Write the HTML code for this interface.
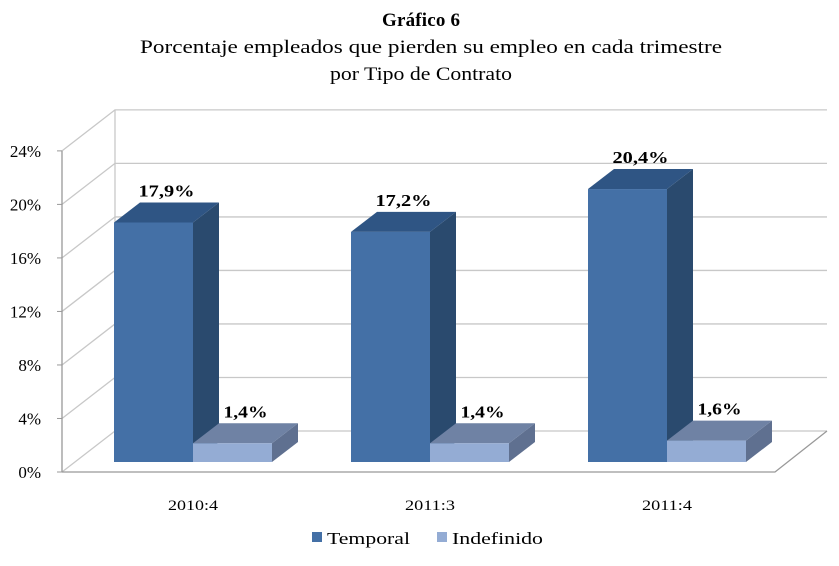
<!DOCTYPE html>
<html><head><meta charset="utf-8"><style>
body{margin:0;background:#fff;width:839px;height:561px;overflow:hidden;font-family:"Liberation Serif",serif}
</style></head><body>
<svg width="839" height="561" xmlns="http://www.w3.org/2000/svg">
<text x="421" y="26" text-anchor="middle" font-size="19" font-weight="bold" textLength="78">Gráfico 6</text>
<text x="431" y="53" text-anchor="middle" font-size="19" textLength="582" lengthAdjust="spacingAndGlyphs">Porcentaje empleados que pierden su empleo en cada trimestre</text>
<text x="421" y="80" text-anchor="middle" font-size="19" textLength="182" lengthAdjust="spacingAndGlyphs">por Tipo de Contrato</text>
<g id="grid"></g>
<g id="bars"></g>
<g id="legend">
<rect x="312" y="532" width="10" height="10" fill="#4470a6"/>
<text x="327" y="544" font-size="17" textLength="83" lengthAdjust="spacingAndGlyphs">Temporal</text>
<rect x="437" y="532" width="10" height="10" fill="#94acd4"/>
<text x="452" y="544" font-size="17" textLength="91" lengthAdjust="spacingAndGlyphs">Indefinido</text>
</g>
</svg>
<script>
const categories=["2010:4","2011:3","2011:4"];
const temporal=[17.9,17.2,20.4];
const indefinido=[1.4,1.4,1.6];
const tickLabels=["0%","4%","8%","12%","16%","20%","24%"];
const tickValues=[0,4,8,12,16,20,24];
const NS="http://www.w3.org/2000/svg";
const axX=62,axY0=472,scale=13.38,wdx=53,wdy=-41,rightX=827,floorFrontRight=775;
const barBase=462,barW=79,bdx=26,bdy=-20,groupStart=114,groupStep=237;
function yAx(v){return axY0-v*scale;}
function yBar(v){return barBase-v*scale;}
function mk(tag,attrs,parent){const e=document.createElementNS(NS,tag);for(const k in attrs)e.setAttribute(k,attrs[k]);parent.appendChild(e);return e;}
const grid=document.getElementById('grid');
tickValues.forEach((v,i)=>{
  const y=yAx(v);
  const l=mk('polyline',{points:`${axX},${y} ${axX+wdx},${y+wdy} ${rightX},${y+wdy}`,fill:'none',stroke:'#c8c8c8','stroke-width':1.3},grid);
  
  
  const t=mk('line',{x1:axX-5,y1:y,x2:axX,y2:y,stroke:'#999'},grid);
  
  
  const tx=mk('text',{x:41,y:y+6,'text-anchor':'end','font-size':17},grid);
  tx.textContent=tickLabels[i];
  
  
});
const bw=mk('line',{x1:axX+wdx,y1:yAx(0)+wdy,x2:axX+wdx,y2:yAx(24)+wdy,stroke:'#c8c8c8','stroke-width':1.3},grid);


const ax=mk('line',{x1:axX,y1:yAx(0),x2:axX,y2:yAx(24),stroke:'#999','stroke-width':1.3},grid);


const fl=mk('polyline',{points:`${axX},${axY0} ${floorFrontRight},${axY0} ${rightX},${axY0+wdy}`,fill:'none',stroke:'#999','stroke-width':1.3},grid);


const bars=document.getElementById('bars');
function bar(x,v,front,top,side,name,label){
  const y=yBar(v);
  const g=mk('g',{},bars);
  
  
  mk('polygon',{points:`${x+barW},${y} ${x+barW+bdx},${y+bdy} ${x+barW+bdx},${barBase+bdy} ${x+barW},${barBase}`,fill:side},g);
  mk('polygon',{points:`${x},${y} ${x+bdx},${y+bdy} ${x+barW+bdx},${y+bdy} ${x+barW},${y}`,fill:top},g);
  mk('rect',{x:x,y:y,width:barW,height:barBase-y,fill:front},g);
  const t=mk('text',{x:x+barW/2+bdx/2,y:y+bdy-6,'text-anchor':'middle','font-size':17,'font-weight':'bold',textLength:label.length>4?56:44,lengthAdjust:'spacingAndGlyphs'},bars);
  t.textContent=label;
  
  
}
categories.forEach((c,i)=>{
  const x=groupStart+i*groupStep;
  bar(x,temporal[i],'#4470a6','#2f5584','#2a4a6e','bar-temporal-'+c,temporal[i].toFixed(1).replace('.',',')+'%');
  bar(x+barW,indefinido[i],'#94acd4','#6f82a4','#5f7090','bar-indefinido-'+c,indefinido[i].toFixed(1).replace('.',',')+'%');
  const t=mk('text',{x:x+barW,y:510,'text-anchor':'middle','font-size':15,textLength:50,lengthAdjust:'spacingAndGlyphs'},bars);
  t.textContent=c;
  
  
});
</script>
</body></html>
